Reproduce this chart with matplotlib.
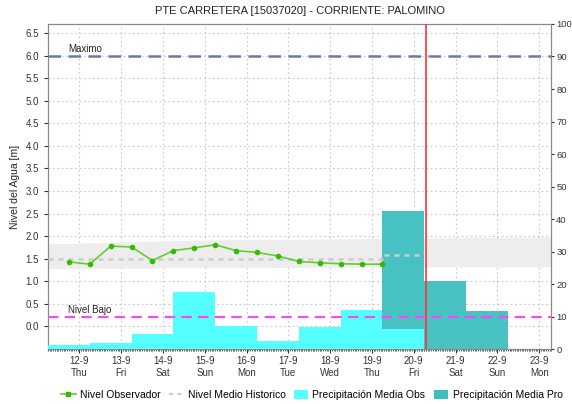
import numpy as np
import pandas as pd
import matplotlib
matplotlib.use("Agg")
import matplotlib.pyplot as plt
import matplotlib.dates as mdates
from matplotlib.lines import Line2D
from matplotlib.patches import Patch

plt.rcParams['font.family'] = ['Liberation Sans', 'DejaVu Sans']

# --- data ---
day_labels = ['12-9', '13-9', '14-9', '15-9', '16-9', '17-9', '18-9', '19-9',
              '20-9', '21-9', '22-9', '23-9']
weekday_labels = ['Thu', 'Fri', 'Sat', 'Sun', 'Mon', 'Tue', 'Wed', 'Thu',
                  'Fri', 'Sat', 'Sun', 'Mon']
day_dates = pd.date_range('2019-09-12', periods=12, freq='D')

# observed water level, every 12 h
obs_times = pd.date_range('2019-09-11 18:00', periods=16, freq='12h')
obs_level = [1.43, 1.38, 1.78, 1.76, 1.46, 1.68, 1.74, 1.81,
             1.68, 1.64, 1.56, 1.44, 1.41, 1.39, 1.38, 1.38]

# historic mean and range (per day)
hist_times = pd.date_range('2019-09-11 06:00', periods=14, freq='D')
hist_low = [1.28, 1.29, 1.29, 1.30, 1.30, 1.30, 1.31, 1.31, 1.32, 1.32, 1.32, 1.32, 1.32, 1.32]
hist_high = [1.83, 1.85, 1.88, 1.90, 1.92, 1.92, 1.93, 1.94, 1.95, 1.96, 1.97, 1.97, 1.98, 1.98]
mean_times = pd.date_range('2019-09-11 06:00', periods=10, freq='D')
mean_level = [1.50, 1.50, 1.50, 1.50, 1.50, 1.50, 1.50, 1.50, 1.58, 1.58]

# precipitation (mm), daily periods starting 06:00
prec_obs_start = pd.date_range('2019-09-11 06:00', periods=9, freq='D')
prec_obs = [1.3, 2.0, 4.6, 17.5, 7.0, 2.35, 6.7, 11.9, 6.3]
prec_pro_start = pd.date_range('2019-09-19 06:00', periods=3, freq='D')
prec_pro = [42.6, 20.9, 11.6]

nivel_max = 6.0
nivel_bajo = 0.22
now = pd.Timestamp('2019-09-20 07:00')
x_start = pd.Timestamp('2019-09-11 06:00')
x_end = pd.Timestamp('2019-09-23 07:00')

# --- figure ---
fig = plt.figure(figsize=(5.72, 4.04), dpi=100)
ax = fig.add_axes([0.0839, 0.1361, 0.880, 0.8045])
ax_p = ax.twinx()
ax_l = ax.twinx()

grid_kw = dict(color='#c8c8c8', linestyle=(0, (1.5, 2.5)), linewidth=0.8)
ax.grid(True, **grid_kw)
ax.set_axisbelow(True)

ax.fill_between(hist_times, hist_low, hist_high, color='#ededed', linewidth=0, zorder=1)

# precipitation bars
bar_w = pd.Timedelta(days=1)
ax_p.bar(prec_pro_start, prec_pro, width=bar_w, align='edge', color='#3ebfbf',
         alpha=0.95, linewidth=0, zorder=2)
ax_p.bar(prec_obs_start, prec_obs, width=bar_w, align='edge', color='#55ffff',
         linewidth=0, zorder=3)
ax_p.set_ylim(0, 100)
ax_p.set_yticks(np.arange(0, 101, 10))

# lines on top
ax_l.step(mean_times, mean_level, where='post', color='#cccccc', linewidth=1.8,
          linestyle=(0, (2, 2)))
ax_l.plot(obs_times, obs_level, color='#66cc33', linewidth=1.2, marker='o',
          markersize=3, markerfacecolor='#33bb00', markeredgecolor='#33bb00')
ax_l.axhline(nivel_max, color='#6a7aa4', linewidth=1.8, linestyle=(0, (5, 3)))
ax_l.axhline(nivel_bajo, color='#ff44ff', linewidth=1.5, linestyle=(0, (5, 3)))
ax_l.axvline(now, color='#ff3333', linewidth=1.2)
ax_l.text(0.04, nivel_max + 0.03, 'Maximo', transform=ax_l.get_yaxis_transform(),
          fontsize=7, color='#222222', va='bottom')
ax_l.text(0.04, nivel_bajo + 0.03, 'Nivel Bajo', transform=ax_l.get_yaxis_transform(),
          fontsize=7, color='#222222', va='bottom')
ax_l.set_ylim(-0.5, 6.7)
ax_l.axis('off')

ax.set_ylim(-0.5, 6.7)
ax.set_yticks(np.arange(0, 6.51, 0.5))
ax.set_yticklabels([f'{v:.1f}' for v in np.arange(0, 6.51, 0.5)])
ax.set_xlim(x_start, x_end)
ax.set_xticks(day_dates)
ax.set_xticklabels([f'{d}\n{w}' for d, w in zip(day_labels, weekday_labels)])
ax.xaxis.set_minor_locator(mdates.HourLocator(interval=1))
ax.set_ylabel('Nivel del Agua [m]', fontsize=7.5, color='#222222')
ax.set_title('PTE CARRETERA [15037020] - CORRIENTE: PALOMINO', fontsize=8, color='#222222', pad=7)

for a in (ax, ax_p):
    a.tick_params(labelsize=7, colors='#333333', length=3, width=0.8)
    for s in a.spines.values():
        s.set_color('#888888')
ax_p.tick_params(axis='y', pad=1, length=2.5, labelsize=6.8)
ax.tick_params(axis='x', which='minor', length=1.5, width=0.6, color='#444444')
ax.tick_params(axis='x', which='major', length=3)
ax.tick_params(axis='x', pad=2)

handles = [
    Line2D([], [], color='#66cc33', linewidth=1.2, marker='s', markersize=2.5,
           markerfacecolor='#33bb00', markeredgecolor='#33bb00'),
    Line2D([], [], color='#cccccc', linewidth=1.5, linestyle=(0, (2, 2))),
    Patch(facecolor='#55ffff'),
    Patch(facecolor='#3ebfbf'),
]
labels = ['Nivel Observador', 'Nivel Medio Historico', 'Precipitación Media Obs',
          'Precipitación Media Pro']
fig.legend(handles, labels, loc='center', bbox_to_anchor=(0.545, 0.022), ncol=4,
           frameon=False, fontsize=7.5, handlelength=1.4, handletextpad=0.4,
           columnspacing=0.8, handleheight=1.0)

fig.savefig('out.png', dpi=100)
